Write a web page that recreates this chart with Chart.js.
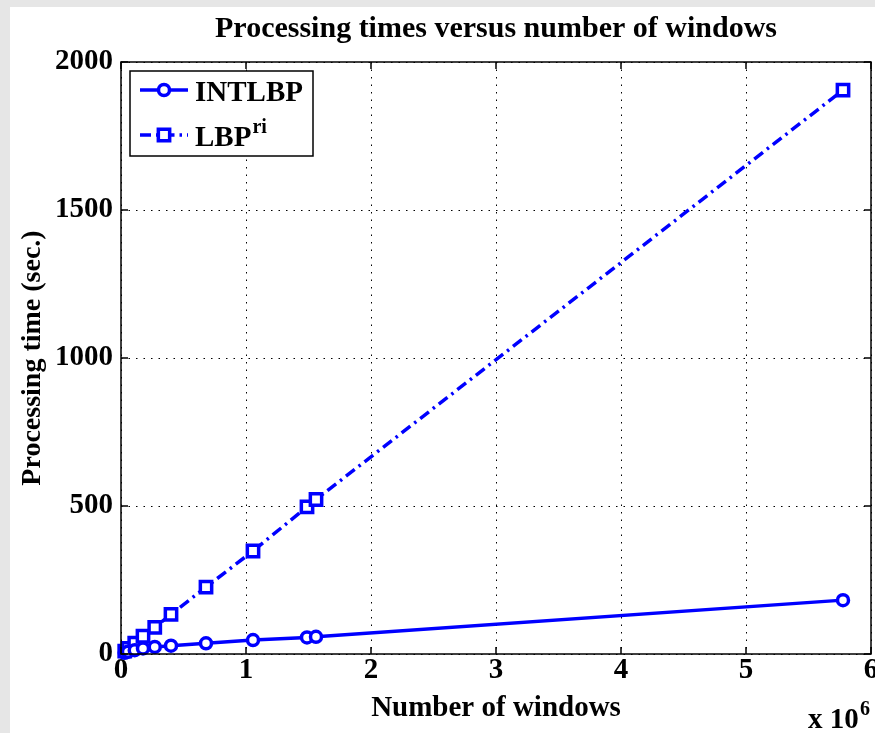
<!DOCTYPE html>
<html lang="en">
<head>
<meta charset="UTF-8" />
<title>Processing times versus number of windows</title>
<script src="https://cdn.jsdelivr.net/npm/chart.js"></script>
<style>
  html, body { margin: 0; padding: 0; background: #e6e6e6; }
  body { width: 875px; height: 733px; overflow: hidden; position: relative; }
  #wrap { position: absolute; left: 10px; top: 7px; width: 865px; height: 726px; background: #fff; }
</style>
</head>
<body>
<div id="wrap"><canvas id="timesChart"></canvas></div>
<script>
  // x values are in units of 10^6 windows
  const windowsMillions = [0.03, 0.056, 0.11, 0.176, 0.27, 0.40, 0.68, 1.056, 1.488, 1.56, 5.776];
  const intlbpTimes = [4, 8, 13, 19, 24, 28, 36, 47, 56, 58, 182];
  const lbpRiTimes = [10, 19, 37, 60, 90, 134, 226, 348, 497, 522, 1905];
  const xTicks = [0, 1, 2, 3, 4, 5, 6];
  const yTicks = [0, 500, 1000, 1500, 2000];
  const seriesNames = ['INTLBP', 'LBP'];

  const FONT = "'Liberation Serif', 'Times New Roman', serif";
  const BLUE = '#0000ff';

  function pairs(ys) {
    return windowsMillions.map((x, i) => ({ x: x, y: ys[i] }));
  }

  // box, inward ticks, legend and the x10^6 note (matlab look)
  const matlabFrame = {
    id: 'matlabFrame',
    afterDraw(chart) {
      const { ctx, chartArea: a, scales } = chart;
      ctx.save();
      ctx.strokeStyle = '#000';
      ctx.lineWidth = 1.5;
      ctx.setLineDash([]);
      ctx.strokeRect(a.left, a.top, a.right - a.left, a.bottom - a.top);

      const tl = 7;
      ctx.beginPath();
      xTicks.forEach(v => {
        const px = scales.x.getPixelForValue(v);
        ctx.moveTo(px, a.bottom); ctx.lineTo(px, a.bottom - tl);
        ctx.moveTo(px, a.top); ctx.lineTo(px, a.top + tl);
      });
      yTicks.forEach(v => {
        const py = scales.y.getPixelForValue(v);
        ctx.moveTo(a.left, py); ctx.lineTo(a.left + tl, py);
        ctx.moveTo(a.right, py); ctx.lineTo(a.right - tl, py);
      });
      ctx.stroke();

      // legend
      const lx = 120, ly = 64, lw = 183, lh = 85;
      ctx.fillStyle = '#fff';
      ctx.fillRect(lx, ly, lw, lh);
      ctx.strokeRect(lx, ly, lw, lh);
      const rows = [83, 128];
      chart.data.datasets.forEach((ds, i) => {
        const y = rows[i];
        ctx.strokeStyle = ds.borderColor;
        ctx.lineWidth = ds.borderWidth;
        ctx.setLineDash(ds.borderDash || []);
        ctx.beginPath();
        ctx.moveTo(130, y); ctx.lineTo(178, y);
        ctx.stroke();
        ctx.setLineDash([]);
        ctx.fillStyle = ds.pointBackgroundColor;
        ctx.lineWidth = ds.pointBorderWidth;
        ctx.beginPath();
        if (ds.pointStyle === 'circle') {
          ctx.arc(154, y, ds.pointRadius, 0, Math.PI * 2);
        } else {
          const s = ds.pointRadius * Math.SQRT1_2;
          ctx.rect(154 - s, y - s, 2 * s, 2 * s);
        }
        ctx.fill();
        ctx.stroke();
      });
      ctx.fillStyle = '#000';
      ctx.textBaseline = 'alphabetic';
      ctx.textAlign = 'left';
      ctx.font = 'bold 29px ' + FONT;
      ctx.fillText(seriesNames[0], 185, 94);
      ctx.fillText(seriesNames[1], 185, 139);
      const w = ctx.measureText(seriesNames[1]).width;
      ctx.font = 'bold 20px ' + FONT;
      ctx.fillText('ri', 185 + w + 1, 126);

      // exponent note under the x axis
      ctx.font = 'bold 29px ' + FONT;
      ctx.fillText('x 10', 798, 721);
      ctx.font = 'bold 20px ' + FONT;
      ctx.fillText('6', 850, 708);
      ctx.restore();
    }
  };

  new Chart(document.getElementById('timesChart'), {
    type: 'line',
    data: {
      datasets: [
        {
          label: seriesNames[0],
          data: pairs(intlbpTimes),
          borderColor: BLUE,
          backgroundColor: BLUE,
          borderWidth: 3.5,
          pointStyle: 'circle',
          pointRadius: 5.5,
          pointBorderWidth: 3.5,
          pointBackgroundColor: '#fff',
          pointBorderColor: BLUE,
          tension: 0,
          clip: false
        },
        {
          label: seriesNames[1] + 'ri',
          data: pairs(lbpRiTimes),
          borderColor: BLUE,
          backgroundColor: BLUE,
          borderWidth: 3.5,
          borderDash: [11, 5, 2.5, 5],
          pointStyle: 'rect',
          pointRadius: 8,
          pointBorderWidth: 3.5,
          pointBackgroundColor: '#fff',
          pointBorderColor: BLUE,
          tension: 0,
          clip: false
        }
      ]
    },
    options: {
      responsive: true,
      maintainAspectRatio: false,
      animation: false,
      layout: { autoPadding: false, padding: { left: 0, top: 0, right: 4, bottom: 0 } },
      plugins: {
        legend: { display: false },
        tooltip: { enabled: false },
        title: {
          display: true,
          fullSize: false,
          text: 'Processing times versus number of windows',
          color: '#000',
          font: { family: FONT, size: 30, weight: 'bold', lineHeight: 1 },
          padding: { top: 7, bottom: 18 }
        }
      },
      scales: {
        x: {
          type: 'linear',
          min: 0, max: 6,
          afterBuildTicks: s => { s.ticks = xTicks.map(v => ({ value: v })); },
          afterFit: s => { s.height = 79; s.paddingLeft = 0; s.paddingRight = 0; },
          grid: { color: '#000', lineWidth: 1, drawTicks: false },
          border: { display: false, dash: [1.5, 6] },
          ticks: { color: '#000', padding: 2, maxRotation: 0, callback: v => String(v), font: { family: FONT, size: 29, weight: 'bold', lineHeight: 1 } },
          title: {
            display: true, text: 'Number of windows', color: '#000',
            font: { family: FONT, size: 29, weight: 'bold', lineHeight: 1 },
            padding: { top: 0, bottom: 10 }
          }
        },
        y: {
          min: 0, max: 2000,
          afterBuildTicks: s => { s.ticks = yTicks.map(v => ({ value: v })); },
          afterFit: s => { s.width = 111; s.paddingTop = 0; s.paddingBottom = 0; },
          grid: { color: '#000', lineWidth: 1, drawTicks: false },
          border: { display: false, dash: [1.5, 6] },
          ticks: { color: '#000', padding: 8, callback: v => String(v), font: { family: FONT, size: 29, weight: 'bold', lineHeight: 1 } },
          title: {
            display: true, text: 'Processing time (sec.)', color: '#000',
            font: { family: FONT, size: 28, weight: 'bold', lineHeight: 1 },
            padding: { top: 9, bottom: 0 }
          }
        }
      }
    },
    plugins: [matlabFrame]
  });
</script>
</body>
</html>
